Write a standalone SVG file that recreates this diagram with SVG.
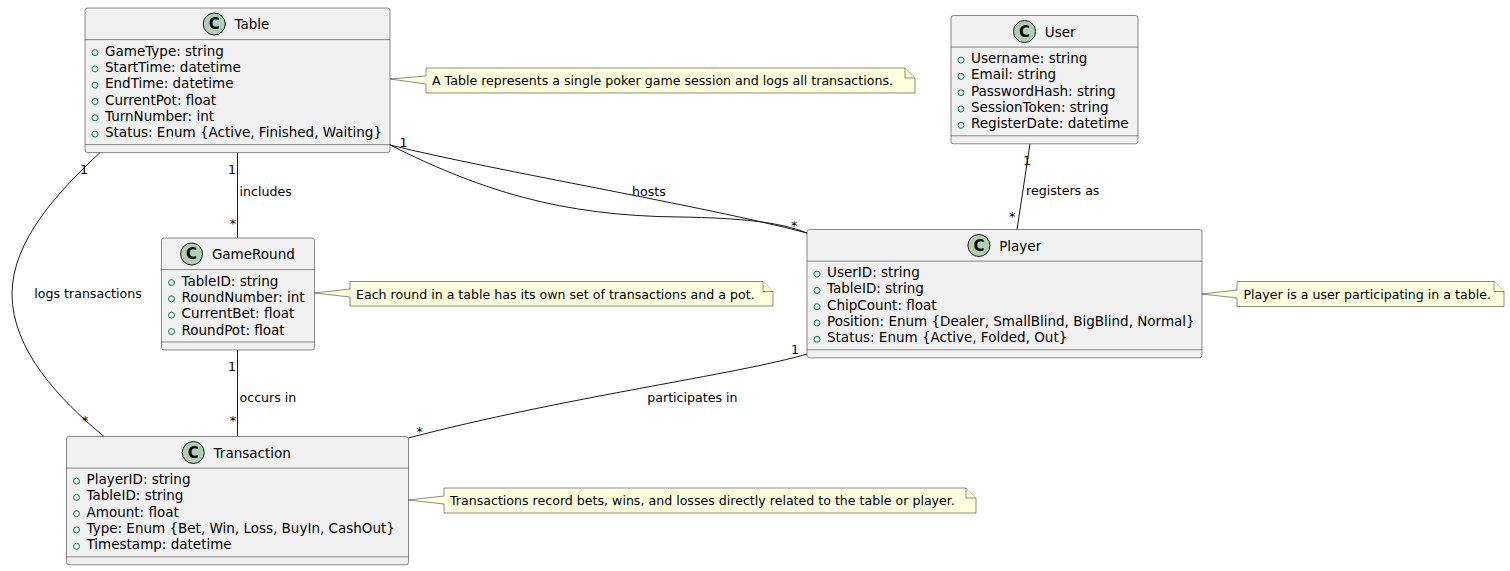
<svg xmlns="http://www.w3.org/2000/svg" width="1510" height="571" viewBox="0 0 1510 571">
<style>
  text { font-family: "DejaVu Sans", "Liberation Sans", sans-serif; fill: #000; }
  .box { fill: #F1F1F1; stroke: #181818; stroke-width: 0.5; }
  .div { stroke: #181818; stroke-width: 0.5; }
  .circ { fill: #ADD1B2; stroke: #181818; stroke-width: 1; }
  .cl { font-size: 15px; font-weight: bold; text-anchor: middle; }
  .title { font-size: 13.5px; }
  .attr { font-size: 13.5px; }
  .vis { fill: none; stroke: #038048; stroke-width: 1; }
  .note { fill: #FEFFDD; stroke: #181818; stroke-width: 0.5; }
  .ntext { font-size: 12.6px; }
  .edge { fill: none; stroke: #181818; stroke-width: 1; }
  .lbl { font-size: 12.6px; }
</style>

<g id="connectors">
  <path class="edge" d="M237.5,152.6 L237.5,238"/>
  <path class="edge" d="M237.5,350 L237.5,436.5"/>
  <path class="edge" d="M100,152.6 C60,190 12,240 12,294 C12,350 60,400 104,436.5"/>
  <path class="edge" d="M390,145 C500,172 700,205 807,233"/>
  <path class="edge" d="M390,145 C480,190 560,216 680,217 C740,218 780,222 807,233"/>
  <path class="edge" d="M1030,143.8 L1017,229.5"/>
  <path class="edge" d="M807,354 C740,374 560,398 408.5,438"/>

  <text class="lbl" x="236" y="173.5" text-anchor="end">1</text>
  <text class="lbl" x="236" y="228" text-anchor="end">*</text>
  <text class="lbl" x="239.5" y="196">includes</text>

  <text class="lbl" x="236" y="371" text-anchor="end">1</text>
  <text class="lbl" x="236" y="425" text-anchor="end">*</text>
  <text class="lbl" x="239.5" y="401.5">occurs in</text>

  <text class="lbl" x="80" y="173.5">1</text>
  <text class="lbl" x="82" y="425">*</text>
  <text class="lbl" x="34.3" y="297.5">logs transactions</text>

  <text class="lbl" x="399.5" y="147">1</text>
  <text class="lbl" x="791" y="230">*</text>
  <text class="lbl" x="632" y="196">hosts</text>

  <text class="lbl" x="1023" y="165">1</text>
  <text class="lbl" x="1009" y="221">*</text>
  <text class="lbl" x="1026" y="195">registers as</text>

  <text class="lbl" x="791" y="354">1</text>
  <text class="lbl" x="416.5" y="436">*</text>
  <text class="lbl" x="647.3" y="402">participates in</text>
</g>

<g id="Table">
  <rect class="box" x="85" y="8" width="305" height="144.6" rx="2.5"/>
  <circle class="circ" cx="214.25" cy="24" r="11"/>
  <text class="cl" x="214.25" y="29.3">C</text>
  <text class="title" x="234.5" y="29">Table</text>
  <line class="div" x1="85" y1="39.6" x2="390" y2="39.6"/>
  <circle class="vis" cx="95" cy="52.6" r="3"/><text class="attr" x="105" y="55.6">GameType: string</text>
  <circle class="vis" cx="95" cy="68.9" r="3"/><text class="attr" x="105" y="71.9">StartTime: datetime</text>
  <circle class="vis" cx="95" cy="85.2" r="3"/><text class="attr" x="105" y="88.2">EndTime: datetime</text>
  <circle class="vis" cx="95" cy="101.5" r="3"/><text class="attr" x="105" y="104.5">CurrentPot: float</text>
  <circle class="vis" cx="95" cy="117.8" r="3"/><text class="attr" x="105" y="120.8">TurnNumber: int</text>
  <circle class="vis" cx="95" cy="134.1" r="3"/><text class="attr" x="105" y="137.1">Status: Enum {Active, Finished, Waiting}</text>
  <line class="div" x1="85" y1="144.6" x2="390" y2="144.6"/>
</g>

<g id="User">
  <rect class="box" x="951" y="15.5" width="187" height="128.3" rx="2.5"/>
  <circle class="circ" cx="1024.5" cy="31.5" r="11"/>
  <text class="cl" x="1024.5" y="36.8">C</text>
  <text class="title" x="1044.8" y="36.5">User</text>
  <line class="div" x1="951" y1="47.1" x2="1138" y2="47.1"/>
  <circle class="vis" cx="961" cy="60.1" r="3"/><text class="attr" x="971" y="63.1">Username: string</text>
  <circle class="vis" cx="961" cy="76.4" r="3"/><text class="attr" x="971" y="79.4">Email: string</text>
  <circle class="vis" cx="961" cy="92.7" r="3"/><text class="attr" x="971" y="95.7">PasswordHash: string</text>
  <circle class="vis" cx="961" cy="109" r="3"/><text class="attr" x="971" y="112">SessionToken: string</text>
  <circle class="vis" cx="961" cy="125.3" r="3"/><text class="attr" x="971" y="128.3">RegisterDate: datetime</text>
  <line class="div" x1="951" y1="135.8" x2="1138" y2="135.8"/>
</g>

<g id="GameRound">
  <rect class="box" x="161.5" y="238" width="153" height="112" rx="2.5"/>
  <circle class="circ" cx="191.6" cy="254" r="11"/>
  <text class="cl" x="191.6" y="259.3">C</text>
  <text class="title" x="211.9" y="259">GameRound</text>
  <line class="div" x1="161.5" y1="269.6" x2="314.5" y2="269.6"/>
  <circle class="vis" cx="171.5" cy="282.6" r="3"/><text class="attr" x="181.5" y="285.6">TableID: string</text>
  <circle class="vis" cx="171.5" cy="298.9" r="3"/><text class="attr" x="181.5" y="301.9">RoundNumber: int</text>
  <circle class="vis" cx="171.5" cy="315.2" r="3"/><text class="attr" x="181.5" y="318.2">CurrentBet: float</text>
  <circle class="vis" cx="171.5" cy="331.5" r="3"/><text class="attr" x="181.5" y="334.5">RoundPot: float</text>
  <line class="div" x1="161.5" y1="342" x2="314.5" y2="342"/>
</g>

<g id="Player">
  <rect class="box" x="807" y="229.5" width="395" height="128.3" rx="2.5"/>
  <circle class="circ" cx="978.9" cy="245.5" r="11"/>
  <text class="cl" x="978.9" y="250.8">C</text>
  <text class="title" x="999.2" y="250.5">Player</text>
  <line class="div" x1="807" y1="261.1" x2="1202" y2="261.1"/>
  <circle class="vis" cx="817" cy="274.1" r="3"/><text class="attr" x="827" y="277.1">UserID: string</text>
  <circle class="vis" cx="817" cy="290.4" r="3"/><text class="attr" x="827" y="293.4">TableID: string</text>
  <circle class="vis" cx="817" cy="306.7" r="3"/><text class="attr" x="827" y="309.7">ChipCount: float</text>
  <circle class="vis" cx="817" cy="323" r="3"/><text class="attr" x="827" y="326">Position: Enum {Dealer, SmallBlind, BigBlind, Normal}</text>
  <circle class="vis" cx="817" cy="339.3" r="3"/><text class="attr" x="827" y="342.3">Status: Enum {Active, Folded, Out}</text>
  <line class="div" x1="807" y1="349.8" x2="1202" y2="349.8"/>
</g>

<g id="Transaction">
  <rect class="box" x="66.5" y="436.5" width="342" height="128.3" rx="2.5"/>
  <circle class="circ" cx="193.25" cy="452.5" r="11"/>
  <text class="cl" x="193.25" y="457.8">C</text>
  <text class="title" x="213.6" y="457.5">Transaction</text>
  <line class="div" x1="66.5" y1="468.1" x2="408.5" y2="468.1"/>
  <circle class="vis" cx="76.5" cy="481.1" r="3"/><text class="attr" x="86.5" y="484.1">PlayerID: string</text>
  <circle class="vis" cx="76.5" cy="497.4" r="3"/><text class="attr" x="86.5" y="500.4">TableID: string</text>
  <circle class="vis" cx="76.5" cy="513.7" r="3"/><text class="attr" x="86.5" y="516.7">Amount: float</text>
  <circle class="vis" cx="76.5" cy="530" r="3"/><text class="attr" x="86.5" y="533">Type: Enum {Bet, Win, Loss, BuyIn, CashOut}</text>
  <circle class="vis" cx="76.5" cy="546.3" r="3"/><text class="attr" x="86.5" y="549.3">Timestamp: datetime</text>
  <line class="div" x1="66.5" y1="556.8" x2="408.5" y2="556.8"/>
</g>

<g id="note-table">
  <path class="note" d="M426,68 L426,76 L390,79 L426,84 L426,93 L915,93 L915,78 L905,68 Z"/>
  <path class="note" d="M905,68 L905,78 L915,78"/>
  <text class="ntext" x="432" y="85">A Table represents a single poker game session and logs all transactions.</text>
</g>

<g id="note-gameround">
  <path class="note" d="M350,281.5 L350,289 L314.5,293 L350,297 L350,306 L773,306 L773,291.5 L763,281.5 Z"/>
  <path class="note" d="M763,281.5 L763,291.5 L773,291.5"/>
  <text class="ntext" x="356" y="298.5">Each round in a table has its own set of transactions and a pot.</text>
</g>

<g id="note-player">
  <path class="note" d="M1237,281.5 L1237,290 L1202,294 L1237,298 L1237,306.5 L1504,306.5 L1504,291.5 L1494,281.5 Z"/>
  <path class="note" d="M1494,281.5 L1494,291.5 L1504,291.5"/>
  <text class="ntext" x="1243.5" y="299">Player is a user participating in a table.</text>
</g>

<g id="note-transaction">
  <path class="note" d="M444,488 L444,496 L408.5,500 L444,504 L444,513 L976,513 L976,498 L966,488 Z"/>
  <path class="note" d="M966,488 L966,498 L976,498"/>
  <text class="ntext" x="450" y="505">Transactions record bets, wins, and losses directly related to the table or player.</text>
</g>
</svg>
